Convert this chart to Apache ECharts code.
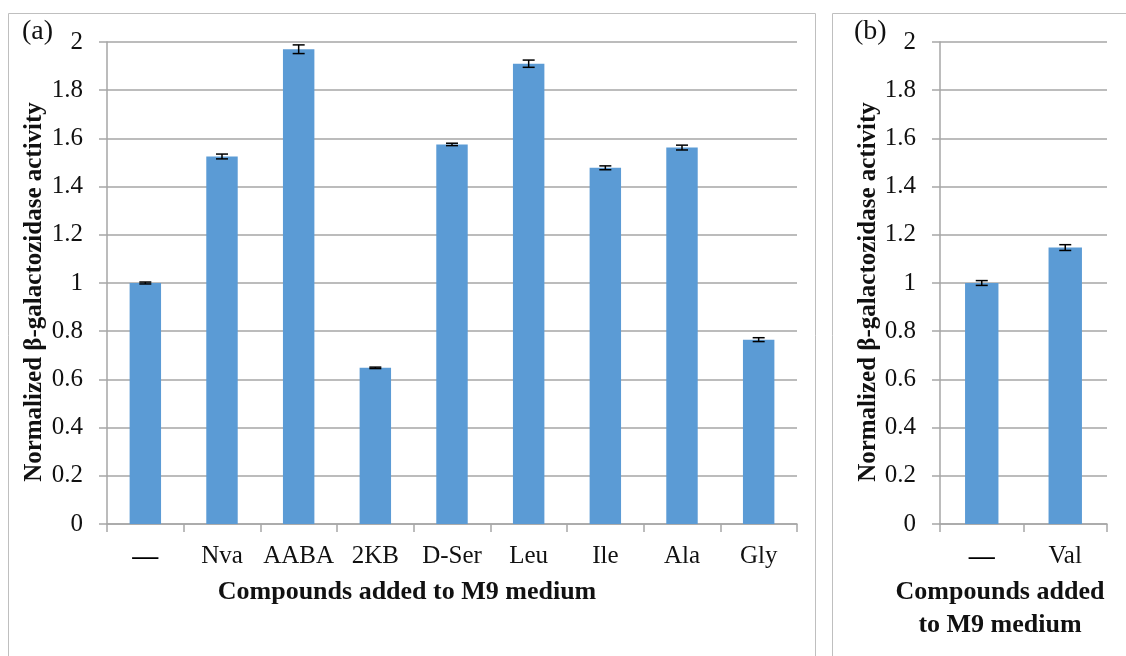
<!DOCTYPE html>
<html><head><meta charset="utf-8">
<script src="https://cdn.jsdelivr.net/npm/echarts@6/dist/echarts.min.js"></script>
<style>html,body{margin:0;padding:0;background:#fff}#c{width:1126px;height:656px}</style>
</head><body><div id="c"></div>
<script>
const catsA = ['—','Nva','AABA','2KB','D-Ser','Leu','Ile','Ala','Gly'];
const valsA = [1.0, 1.525, 1.97, 0.648, 1.575, 1.91, 1.478, 1.562, 0.765];
const errA  = [0.004, 0.01, 0.018, 0.003, 0.005, 0.015, 0.008, 0.01, 0.008];
const catsB = ['—','Val'];
const valsB = [1.0, 1.147];
const errB  = [0.01, 0.012];
const yTicks = [0,0.2,0.4,0.6,0.8,1,1.2,1.4,1.6,1.8,2];

const FONT = '"Liberation Serif","Times New Roman",serif';
const GRID = '#a6a6a6';
const BAR = '#5b9bd5';

function errSeries(xi, yi, vals, errs){
  return {
    type:'custom', xAxisIndex:xi, yAxisIndex:yi, z:5,
    data: vals.map((v,i)=>[i, v-errs[i], v+errs[i]]),
    renderItem: function(params, api){
      const lo = api.coord([api.value(0), api.value(1)]);
      const hi = api.coord([api.value(0), api.value(2)]);
      const w = 6;
      const st = {stroke:'#000', lineWidth:1.5};
      return {type:'group', children:[
        {type:'line', shape:{x1:lo[0],y1:lo[1],x2:hi[0],y2:hi[1]}, style:st},
        {type:'line', shape:{x1:lo[0]-w,y1:lo[1],x2:lo[0]+w,y2:lo[1]}, style:st},
        {type:'line', shape:{x1:hi[0]-w,y1:hi[1],x2:hi[0]+w,y2:hi[1]}, style:st}
      ]};
    }
  };
}

function yAxis(gi){
  return {type:'value', gridIndex:gi, min:0, max:2, interval:0.2,
    axisLine:{show:true, lineStyle:{color:GRID, width:1.5}},
    axisTick:{show:true, length:8, lineStyle:{color:GRID, width:1.5}},
    splitLine:{show:true, lineStyle:{color:GRID, width:1.5}},
    axisLabel:{margin:24, color:'#111', fontFamily:FONT, fontSize:25,
      formatter: v => String(Math.round(v*10)/10)}
  };
}
function xAxis(gi, cats){
  return {type:'category', gridIndex:gi, data:cats, boundaryGap:true,
    axisLine:{show:true, lineStyle:{color:GRID, width:1.5}},
    axisTick:{show:true, length:8, alignWithLabel:false, lineStyle:{color:GRID, width:1.5}},
    axisLabel:{margin:20, color:'#111', fontFamily:FONT, fontSize:25, interval:0,
      formatter: v => v==='—' ? '{d|—}' : v,
      rich:{d:{fontFamily:FONT, fontSize:26, fontWeight:'bold', color:'#000'}}}
  };
}

const chart = echarts.init(document.getElementById('c'), null, {renderer:'canvas'});
chart.setOption({
  animation:false,
  backgroundColor:'#fff',
  grid:[
    {left:107, top:42, width:690, height:482},
    {left:940, top:42, width:167, height:482}
  ],
  xAxis:[xAxis(0,catsA), xAxis(1,catsB)],
  yAxis:[yAxis(0), yAxis(1)],
  series:[
    {type:'bar', xAxisIndex:0, yAxisIndex:0, data:valsA, barWidth:'41%',
     itemStyle:{color:BAR}},
    {type:'bar', xAxisIndex:1, yAxisIndex:1, data:valsB, barWidth:'40%',
     itemStyle:{color:BAR}},
    errSeries(0,0,valsA,errA),
    errSeries(1,1,valsB,errB)
  ],
  graphic:[
    {type:'rect', shape:{x:8.5,y:13.5,width:807,height:700}, style:{fill:null, stroke:'#bfbfbf', lineWidth:1}, silent:true},
    {type:'rect', shape:{x:832.5,y:13.5,width:400,height:700}, style:{fill:null, stroke:'#bfbfbf', lineWidth:1}, silent:true},
    {type:'text', left:22, top:18, style:{text:'(a)', font:'28px '+FONT, fill:'#111'}},
    {type:'text', left:854, top:18, style:{text:'(b)', font:'28px '+FONT, fill:'#111'}},
    {type:'text', x:35, y:292, rotation:Math.PI/2,
     style:{text:'Normalized β-galactozidase activity', font:'bold 25px '+FONT, fill:'#111', align:'center', verticalAlign:'middle'}},
    {type:'text', x:869, y:292, rotation:Math.PI/2,
     style:{text:'Normalized β-galactozidase activity', font:'bold 25px '+FONT, fill:'#111', align:'center', verticalAlign:'middle'}},
    {type:'text', x:407, y:592, style:{text:'Compounds added to M9 medium', font:'bold 26px '+FONT, fill:'#111', align:'center', verticalAlign:'middle'}},
    {type:'text', x:1000, y:592, style:{text:'Compounds added', font:'bold 26px '+FONT, fill:'#111', align:'center', verticalAlign:'middle'}},
    {type:'text', x:1000, y:625, style:{text:'to M9 medium', font:'bold 26px '+FONT, fill:'#111', align:'center', verticalAlign:'middle'}}
  ]
});
</script></body></html>
